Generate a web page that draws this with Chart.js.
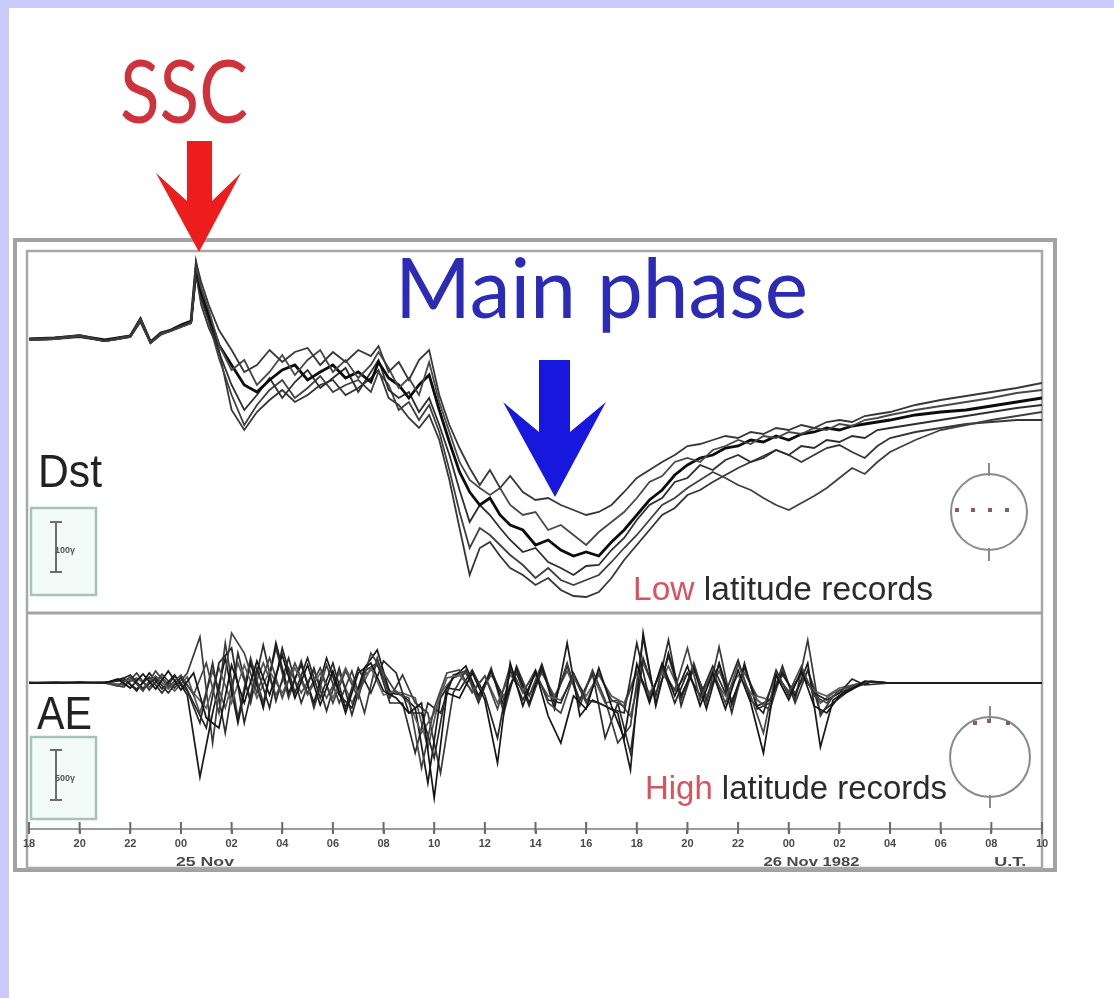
<!DOCTYPE html>
<html>
<head>
<meta charset="utf-8">
<title>Magnetic storm — Dst and AE records, November 1982</title>
<script src="https://cdn.jsdelivr.net/npm/chart.js@4.4.1/dist/chart.umd.min.js"></script>
<style>
  html, body { margin: 0; padding: 0; background: #ffffff; }
  canvas { display: block; }
</style>
</head>
<body>
<canvas id="storm" width="1114" height="998"></canvas>
<script>
// Time axis: hours counted from 18 UT on 24 Nov 1982, one tick every 2 h
const tickLabels = ['18','20','22','00','02','04','06','08','10','12','14','16','18','20','22','00','02','04','06','08','10'];
const dayLabels = ['25 Nov', '26 Nov 1982', 'U.T.'];
const dayLabelHours = [6.95, 30.9, 38.75];

// Low latitude (Dst) records, nT
const dstHours = [0,1,2,3,3.5,4,4.4,4.8,5.2,5.6, 6,6.4,6.6,6.8,7.1,7.5,8,8.5,9,9.5, 10,10.5,11,11.5,12,12.5,13,13.5,13.8,14.2, 14.6,15,15.4,15.8,16.2,16.6,17,17.4,17.8,18.2, 18.6,19,19.5,20,20.5,21,21.5,22,22.5,23, 23.5,24,24.5,25,25.5,26,26.5,27,27.5,28, 28.5,29,29.5,30,30.5,31,31.5,32,32.5,33, 33.5,34,35,36,37,38,39,40];
const dstStation1 = [2,4,10,-2,4,8,44,-4,14,20,28,36,154,116, 70,20,-20,-64,-50,-20,-44,-24,-16,-50,-24,-44,-20,-32,-12,-64,-44,-80,-40,-20,-110, -170,-216,-256,-290,-260,-296,-272,-304,-320,-316,-330,-340,-350,-344,-330, -304,-276,-260,-244,-230,-212,-208,-200,-192,-196,-184,-188,-176,-180,-170,-176,-164,-160,-164,-152,-148,-144,-130,-120,-112,-104,-96,-86];
const dstStation2 = [0,2,8,-2,2,6,40,-6,12,18,26,34,148,104, 60,-10,-60,-40,-90,-64,-30,-70,-40,-20,-64,-40,-76,-50,-24,-56,-96,-76,-110,-44,-124, -184,-244,-280,-296,-310,-296,-330,-350,-344,-380,-370,-390,-410,-384,-364, -344,-316,-284,-272,-244,-236,-244,-220,-212,-200,-208,-192,-196,-184,-188,-176,-180,-168,-172,-160,-156,-150,-140,-132,-124,-116,-106,-100];
const dstStation3 = [2,4,8,0,4,8,42,-4,14,20,30,38,150,96, 50,-10,-50,-90,-104,-80,-60,-50,-80,-64,-50,-76,-64,-84,-44,-76,-90,-116,-90,-70,-140, -204,-264,-304,-330,-316,-350,-370,-380,-410,-400,-420,-432,-424,-432,-404, -380,-350,-320,-300,-270,-250,-236,-230,-216,-212,-200,-204,-192,-200,-188,-184,-176,-180,-172,-168,-164,-160,-150,-144,-140,-132,-124,-116];
const dstStation4 = [0,2,8,-2,2,6,38,-6,12,18,26,34,140,84, 40,-24,-90,-140,-110,-76,-116,-84,-60,-96,-76,-56,-104,-64,-40,-100,-116,-104,-144,-116,-170, -230,-300,-364,-330,-350,-376,-400,-424,-416,-444,-456,-470,-452,-450,-420, -396,-360,-330,-316,-284,-276,-250,-260,-240,-230,-244,-236,-220,-230,-212,-216,-200,-204,-192,-196,-180,-176,-168,-160,-152,-144,-136,-130];
const dstStation5 = [2,4,8,-2,4,8,40,-4,12,20,28,36,136,80, 36,-36,-110,-170,-130,-100,-80,-116,-96,-72,-104,-90,-80,-104,-64,-90,-140,-124,-160,-130,-184, -260,-344,-416,-376,-390,-410,-430,-450,-476,-456,-480,-490,-480,-470,-444, -416,-390,-360,-330,-316,-296,-280,-264,-276,-290,-300,-316,-330,-340,-326,-312,-296,-276,-256,-268,-244,-224,-200,-180,-170,-160,-152,-144];
const dstStation6 = [0,2,6,-2,2,6,36,-6,10,18,26,34,130,70, 24,-20,-140,-180,-144,-120,-100,-124,-110,-90,-80,-110,-96,-76,-60,-116,-130,-156,-176,-150,-200, -280,-376,-470,-416,-404,-432,-456,-470,-490,-476,-500,-512,-514,-504,-476, -440,-410,-380,-350,-336,-310,-300,-284,-270,-256,-244,-232,-220,-230,-244,-230,-216,-210,-224,-236,-212,-196,-184,-176,-168,-164,-160,-160];

// High latitude (AE) records, nT; two sampling grids offset by a quarter hour
const aeHoursA = [0,1,2,3, 3.5,4,4.5,5,5.5,6,6.5,7,7.5,8, 8.5,9,9.5,10,10.5,11,11.5,12,12.5,13, 13.5,14,14.5,15,15.5,16,16.5,17,17.5,18, 18.5,19,19.5,20,20.5,21,21.5,22,22.5,23, 23.5,24,24.5,25,25.5,26,26.5,27,27.5,28, 28.5,29,29.5,30,30.5,31,31.5,32,32.5,33, 34,35,36,37,38,39,40];
const aeHoursB = [0,1,2,3, 3.75,4.25,4.75,5.25,5.75,6.25,6.75,7.25,7.75,8.25, 8.75,9.25,9.75,10.25,10.75,11.25,11.75,12.25,12.75,13.25, 13.75,14.25,14.75,15.25,15.75,16.25,16.75,17.25,17.75,18.25, 18.75,19.25,19.75,20.25,20.75,21.25,21.75,22.25,22.75,23.25, 23.75,24.25,24.75,25.25,25.75,26.25,26.75,27.25,27.75,28.25, 28.75,29.25,29.75,30.25,30.75,31.25,31.75,32.25,32.75,33.25, 34,35,36,37,38,39,40];
const aeStation1 = [0,0,10,0, 40,-50,90,-60,120,-70,100,-350,-450,180, -200,220,-120,280,-150,180,-220,120,-300,100, 200,-80,-150,-300,-200,-1150,-100, -150,100,-170,-800,200,-230,120,-330,-600,-130,-260,150,-230,-550,190,-200,200,-130,170,-230,100,-260,130,-200,-700,80,-170,130,-230,-300,-130,-60,20, 0,0,0,0,0,0,0];
const aeStation2 = [0,10,0,0, -30,60,-80,120,-40,80,-120,200,-300,500, 300,-100,250,-150,200,-100,150,-200,120,-150, 300,100,-100,-150,-850,-250,100, 130,-100,70,-260,170,-100,130,-200,-300,70,-200,100,-170,-230,100,-130,130,-70,350,-170,130,-200,190,-130,-500,100,-100,170,-130,-200,-70,-30,10, 0,0,0,0,0,0,0];
const aeStation3 = [0,0,0,10, 20,80,-60,50,-100,60,-200,-450,200,350, -400,150,-250,350,-100,250,-150,200,-250,150, -100,220,100,-300,-300,-750,-50, -70,130,-120,-550,130,-170,100,-170,-200,100,-170,-200,-260,-300,400,-170,170,-200,100,-130,170,-100,230,-170,-300,130,-130,100,-100,-170,-100,40,-20, 0,0,0,0,0,0,0];
const aeStation4 = [10,0,0,0, -20,40,-50,70,-60,50,-100,-250,150,-200, 180,-150,120,-100,150,-120,100,-150,150,-100, 150,-120,-80,-200,-500,-300,50, 80,-80,70,-200,80,-70,80,-130,-170,60,-130,80,-130,-200,120,-100,100,-80,100,-120,70,-130,80,-100,-230,70,-80,80,-80,-130,-50,-20,10, 0,0,0,0,0,0,0];
const aeStation5 = [0,0,0,0, 50,-80,100,-60,80,-120,-940,-300,250,-400, 200,-250,400,-100,180,-200,250,-120,-250,150, 330,-100,-120,-250,-1000,-150,50, 170,-130,120,-230,150,-200,170,-260,400,-330,-170,-230,-300,-870,500,-230,300,-130,150,-260,200,-200,170,-230,-170,100,-130,200,-640,-170,-80,-30,10, 0,0,0,0,0,0,0];
const aeStation6 = [0,0,10,0, -40,100,-70,90,-50,100,460,-600,400,-350, 250,-200,350,-150,220,-250,180,-200,120,-300, 250,-150,80,-200,-300,-900,-100, 130,-170,150,-300,170,-130,190,-200,200,-230,130,-170,-600,-430,450,-200,270,-170,200,-200,360,-230,150,-170,-270,130,-170,430,-330,-130,-70,-20,10, 0,0,0,0,0,0,0];
const aeStation7 = [0,10,0,0, 30,-60,60,-100,70,-80,-400,200,-500,300, -200,380,-180,250,-200,150,-280,150,-320,120, 200,-200,-200,-700,-200,-300,80, 120,-200,130,-170,100,-230,130,-170,170,-170,100,-550,-200,-700,250,-130,430,-230,170,-170,190,-300,200,-260,-200,170,-200,130,-300,-200,-100,-30,20, 0,0,0,0,0,0,0];
const aeStation8 = [0,0,0,10, -20,50,-40,60,-80,60,-300,120,-250,200, -150,200,-120,150,-100,120,-150,100,-200,80, 180,-80,-100,-150,-650,-100,50, 100,-130,80,-130,100,-120,100,-130,120,-170,80,-200,-170,-330,200,-100,170,-120,130,-130,120,-170,100,-130,-170,80,-100,120,-200,-100,-50,-20,10, 0,0,0,0,0,0,0];

// Scale bars shown in the small boxes (nT)
const dstBar = { top: -364, span: 100, label: '100γ' };
const aeBar = { top: -670, span: 500, label: '500γ' };

const dstSeries = [dstStation1, dstStation2, dstStation3, dstStation4, dstStation5, dstStation6];
const aeSeries = [aeStation1, aeStation2, aeStation3, aeStation4, aeStation5, aeStation6, aeStation7, aeStation8];
const aeGrids = [aeHoursA, aeHoursA, aeHoursA, aeHoursA, aeHoursB, aeHoursB, aeHoursB, aeHoursB];
const dstColors = ['#383838', '#484848', '#0c0c0c', '#2e2e2e', '#404040', '#363636'];
const dstWidths = [1.8, 1.8, 2.8, 1.8, 1.8, 1.8];
const aeColors = ['#141414', '#444444', '#262626', '#5e5e5e', '#1a1a1a', '#3a3a3a', '#2e2e2e', '#555555'];

const datasets = [];
dstSeries.forEach((vals, i) => datasets.push({
  label: 'Dst ' + (i + 1),
  yAxisID: 'yDst',
  data: vals.map((v, k) => ({ x: dstHours[k], y: v })),
  borderColor: dstColors[i], borderWidth: dstWidths[i],
  pointRadius: 0, tension: 0, fill: false
}));
aeSeries.forEach((vals, i) => datasets.push({
  label: 'AE ' + (i + 1),
  yAxisID: 'yAE',
  data: vals.map((v, k) => ({ x: aeGrids[i][k], y: v })),
  borderColor: aeColors[i], borderWidth: 1.7,
  pointRadius: 0, tension: 0, fill: false
}));

function line(c, x1, y1, x2, y2) { c.beginPath(); c.moveTo(x1, y1); c.lineTo(x2, y2); c.stroke(); }

// Draws text whose capital height and total width are both fixed
function fitText(c, str, left, baseline, family, weight, capH, width, color) {
  const size = capH / 0.716;
  c.font = weight + ' ' + size + 'px ' + family;
  const w = c.measureText(str).width;
  c.save();
  c.translate(left, baseline);
  c.scale(width / w, 1);
  c.fillStyle = color; c.textAlign = 'left'; c.textBaseline = 'alphabetic';
  c.fillText(str, 0, 0);
  c.restore();
}

// Two-colour caption ("Low latitude records")
function caption(c, first, rest, left, baseline, width) {
  c.font = '33px "Liberation Sans", Arial, sans-serif';
  const w1 = c.measureText(first + ' ').width;
  const w = c.measureText(first + ' ' + rest).width;
  c.save();
  c.translate(left, baseline);
  c.scale(width / w, 1);
  c.textAlign = 'left'; c.textBaseline = 'alphabetic';
  c.fillStyle = '#d9525e'; c.fillText(first, 0, 0);
  c.fillStyle = '#2b2b2b'; c.fillText(rest, w1, 0);
  c.restore();
}

function arrow(c, pts, color) {
  c.beginPath();
  c.moveTo(pts[0][0], pts[0][1]);
  for (let i = 1; i < pts.length; i++) c.lineTo(pts[i][0], pts[i][1]);
  c.closePath();
  c.fillStyle = color; c.fill();
}

function barBox(c, scale, bar, box) {
  c.fillStyle = '#f3fbf8';
  c.fillRect(box[0], box[1], box[2], box[3]);
  c.strokeStyle = '#a6c3bb'; c.lineWidth = 2.5;
  c.strokeRect(box[0], box[1], box[2], box[3]);
  const yTop = scale.getPixelForValue(bar.top);
  const yBot = scale.getPixelForValue(bar.top - bar.span);
  const x = box[0] + 25;
  c.strokeStyle = '#6e6e6e'; c.lineWidth = 2;
  line(c, x, yTop, x, yBot);
  line(c, x - 6, yTop, x + 6, yTop);
  line(c, x - 6, yBot, x + 6, yBot);
  c.font = 'bold 9px "Liberation Sans", Arial, sans-serif';
  c.fillStyle = '#555555'; c.textAlign = 'center'; c.textBaseline = 'middle';
  c.fillText(bar.label, x + 9, (yTop + yBot) / 2 + 4);
}

function globe(c, cx, cy, r, dots) {
  c.strokeStyle = '#8a8a8a'; c.lineWidth = 2;
  c.beginPath(); c.arc(cx, cy, r, 0, Math.PI * 2); c.stroke();
  line(c, cx, cy - r - 11, cx, cy - r + 2);
  line(c, cx, cy + r - 2, cx, cy + r + 11);
  c.fillStyle = '#8c5a66';
  dots.forEach(d => c.fillRect(d[0] - 2, d[1] - 2, 4, 4));
}

const stormDecor = {
  id: 'stormDecor',
  beforeDraw(chart) {
    const c = chart.ctx, a = chart.chartArea;
    const yDst = chart.scales.yDst, yAE = chart.scales.yAE;
    c.save();
    c.fillStyle = '#ffffff'; c.fillRect(0, 0, chart.width, chart.height);
    c.fillStyle = '#cbcbfb';
    c.fillRect(0, 0, chart.width, 8);
    c.fillRect(0, 0, 9, chart.height);

    // outer and inner frames
    c.strokeStyle = '#a2a2a2'; c.lineWidth = 4;
    c.strokeRect(15, 240, 1040, 630);
    c.strokeStyle = '#a8a8a8'; c.lineWidth = 2.5;
    c.strokeRect(a.left - 2, a.top - 1, a.right - a.left + 2, 868 - a.top + 1);
    // panel separator
    c.strokeStyle = '#a4a4a4'; c.lineWidth = 3;
    line(c, a.left - 2, yDst.bottom, a.right, yDst.bottom);

    // panel names
    fitText(c, 'Dst', 38, 487, '"Liberation Sans", Arial, sans-serif', 'normal', 33, 64, '#222222');
    fitText(c, 'AE', 37, 729, '"Liberation Sans", Arial, sans-serif', 'normal', 33, 55, '#222222');

    barBox(c, yDst, dstBar, [31, 508, 65, 87]);
    barBox(c, yAE, aeBar, [31, 737, 65, 82]);

    globe(c, 989, 512, 38, [[957, 510], [973, 510], [990, 510], [1007, 510]]);
    globe(c, 990, 757, 40, [[975, 723], [989, 721], [1008, 723]]);

    caption(c, 'Low', 'latitude records', 633, 600, 300);
    caption(c, 'High', 'latitude records', 645, 799, 302);
    c.restore();
  },
  afterDraw(chart) {
    const c = chart.ctx, x = chart.scales.x;
    c.save();
    // tick marks reaching up across the time axis
    c.strokeStyle = '#6a6a6a'; c.lineWidth = 2;
    x.ticks.forEach((t, i) => {
      const px = x.getPixelForTick(i);
      line(c, px, x.top - 7, px, x.top + 4);
    });
    // day labels under the hour ticks
    const dayWidths = [58, 96, 32];
    dayLabels.forEach((s, i) => {
      const cx = x.getPixelForValue(dayLabelHours[i]);
      fitText(c, s, cx - dayWidths[i] / 2, 866, '"Liberation Sans", Arial, sans-serif', 'bold', 9, dayWidths[i], '#4a4a4a');
    });

    // storm sudden commencement marker
    fitText(c, 'SSC', 120, 123, 'Lato, "Open Sans", sans-serif', 'normal', 62, 128, '#d0323c');
    arrow(c, [[187, 141], [212, 141], [212, 201], [241, 173], [199, 252], [156, 173], [187, 201]], '#ee1d1d');

    // main phase marker
    fitText(c, 'Main phase', 395, 318, 'Lato, "Open Sans", sans-serif', 'normal', 60, 413, '#2b2bb6');
    arrow(c, [[539, 360], [570, 360], [570, 432], [606, 402], [555, 497], [503, 402], [539, 432]], '#1717de');
    c.restore();
  }
};

new Chart(document.getElementById('storm'), {
  type: 'line',
  data: { datasets },
  plugins: [stormDecor],
  options: {
    responsive: false,
    animation: false,
    devicePixelRatio: 1,
    events: [],
    layout: { autoPadding: false, padding: { left: 29, right: 72, top: 252, bottom: 143 } },
    plugins: { legend: { display: false }, tooltip: { enabled: false } },
    scales: {
      x: {
        type: 'linear', position: 'bottom', min: 0, max: 40,
        ticks: {
          stepSize: 2, autoSkip: false, maxRotation: 0, padding: 3,
          color: '#4a4a4a',
          font: { family: '"Liberation Sans", Arial, sans-serif', size: 11, weight: 'bold' },
          callback: (v, i) => tickLabels[i]
        },
        grid: { drawOnChartArea: false, drawTicks: true, tickLength: 5, color: '#6a6a6a', lineWidth: 2 },
        border: { display: true, color: '#9c9c9c', width: 2 },
        afterFit: (s) => { s.height = 26; s.paddingLeft = 0; s.paddingRight = 0; }
      },
      yDst: {
        type: 'linear', position: 'left', stack: 'panels', stackWeight: 361, weight: 2,
        min: -546, max: 176, display: false
      },
      yAE: {
        type: 'linear', position: 'left', stack: 'panels', stackWeight: 216, weight: 1,
        min: -1460, max: 700, display: false
      }
    }
  }
});
</script>
</body>
</html>
